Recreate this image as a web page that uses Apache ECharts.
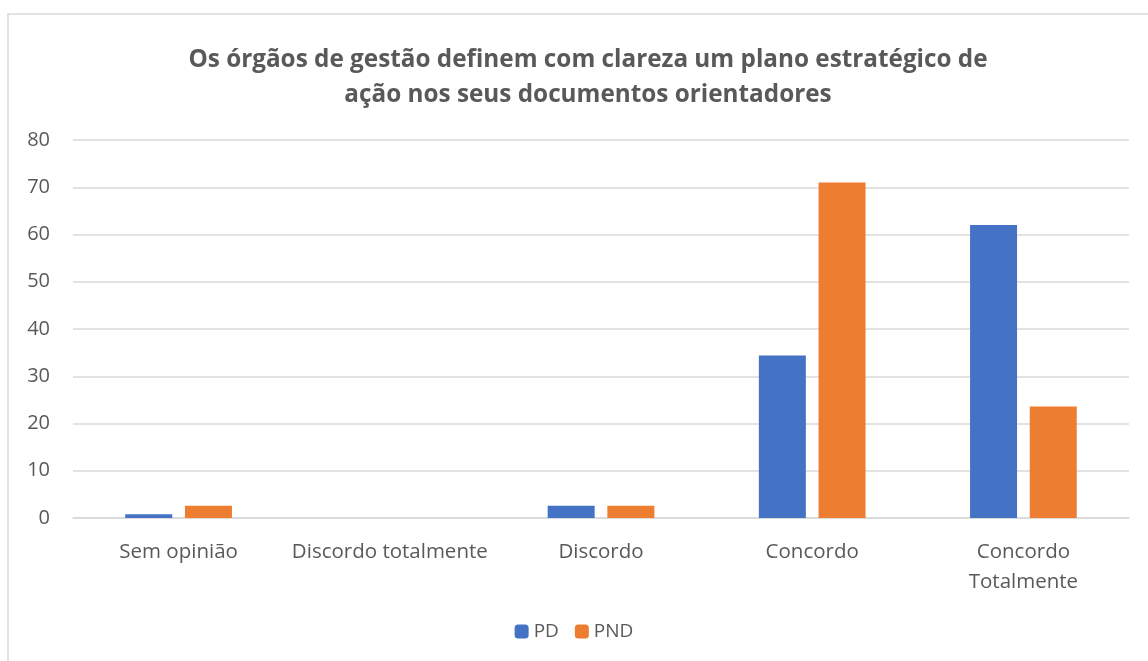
<!DOCTYPE html>
<html>
<head>
<meta charset="utf-8">
<script src="https://cdn.jsdelivr.net/npm/echarts@6/dist/echarts.min.js"></script>
<style>
  html, body { margin: 0; padding: 0; background: #fff; }
  #main { width: 1148px; height: 661px; }
</style>
</head>
<body>
<div id="main"></div>
<script>
// categorias e valores
var categorias = ['Sem opinião', 'Discordo totalmente', 'Discordo', 'Concordo', 'Concordo\nTotalmente'];
var valoresPD = [0.8, 0, 2.6, 34.4, 62.0];
var valoresPND = [2.6, 0, 2.6, 71.0, 23.6];
var ticksY = [0, 10, 20, 30, 40, 50, 60, 70, 80];

var fonte = '"Open Sans", "Noto Sans", sans-serif';
var corTexto = '#595959';

var myChart = echarts.init(document.getElementById('main'));

var option = {
    backgroundColor: '#fff',
    animation: false,
    textStyle: { fontFamily: fonte },
    graphic: [
        {
            type: 'rect',
            shape: { x: 8, y: 14, width: 1200, height: 700 },
            style: { fill: 'none', stroke: '#d9d9d9', lineWidth: 1.5 },
            silent: true
        }
    ],
    title: {
        text: 'Os órgãos de gestão definem com clareza um plano estratégico de\nação nos seus documentos orientadores',
        left: 583,
        top: 38,
        textAlign: 'center',
        textStyle: {
            color: corTexto,
            fontFamily: fonte,
            fontSize: 24.3,
            fontWeight: 'bold',
            lineHeight: 35
        }
    },
    legend: {
        data: ['PD', 'PND'],
        bottom: 15,
        left: 'center',
        itemWidth: 14,
        itemHeight: 14,
        itemGap: 16,
        textStyle: { color: corTexto, fontSize: 19, fontFamily: fonte }
    },
    grid: {
        left: 73,
        right: 19,
        top: 140,
        bottom: 143
    },
    xAxis: {
        type: 'category',
        data: categorias,
        axisLine: { lineStyle: { color: '#d9d9d9', width: 1.5 } },
        axisTick: { show: false },
        axisLabel: {
            color: corTexto,
            fontSize: 20.5,
            fontFamily: fonte,
            margin: 19,
            lineHeight: 30,
            interval: 0
        }
    },
    yAxis: {
        type: 'value',
        min: ticksY[0],
        max: ticksY[ticksY.length - 1],
        interval: 10,
        axisLine: { show: false },
        axisTick: { show: false },
        splitLine: { lineStyle: { color: '#d9d9d9', width: 1.5 } },
        axisLabel: {
            color: corTexto,
            fontSize: 20,
            fontFamily: fonte,
            margin: 23
        }
    },
    series: [
        {
            name: 'PD',
            type: 'bar',
            data: valoresPD,
            barWidth: 47,
            barGap: '27%',
            itemStyle: { color: '#4472C4' }
        },
        {
            name: 'PND',
            type: 'bar',
            data: valoresPND,
            barWidth: 47,
            itemStyle: { color: '#ED7D31' }
        }
    ]
};

myChart.setOption(option);
</script>
</body>
</html>
